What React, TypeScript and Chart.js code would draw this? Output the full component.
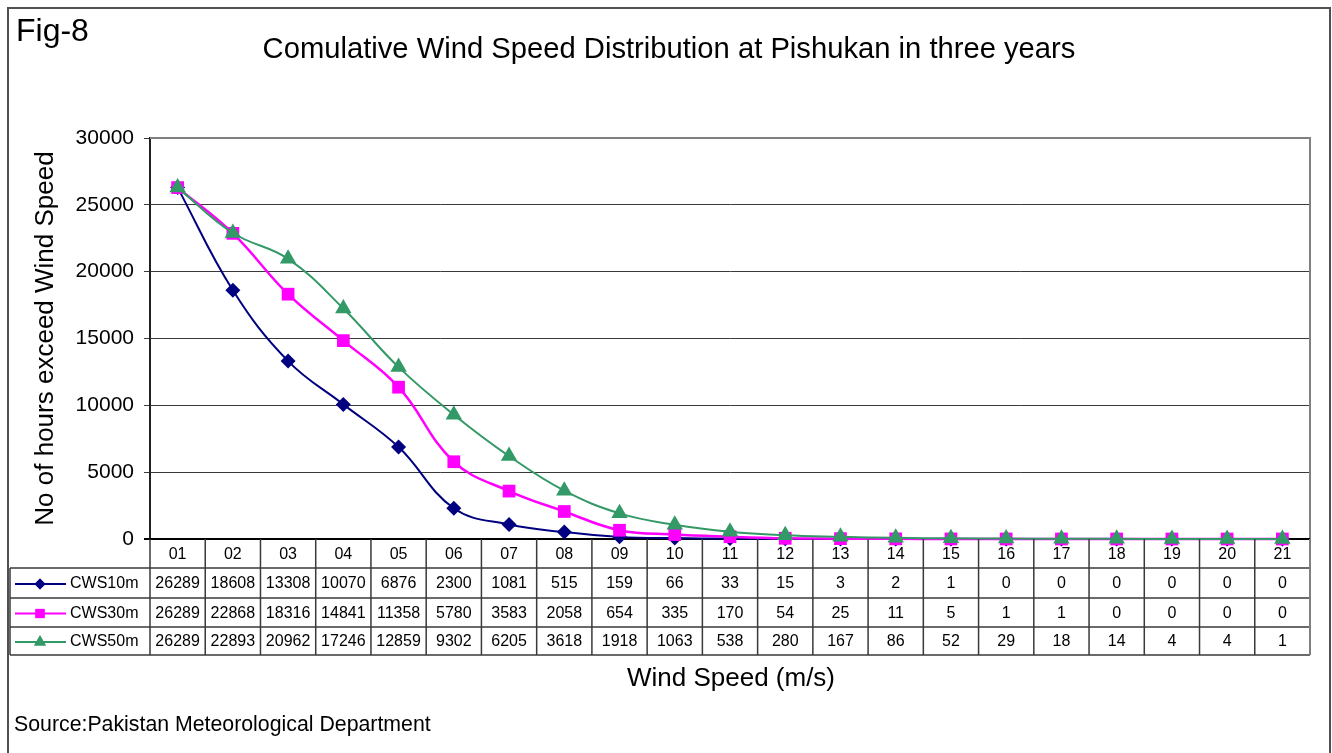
import React, { useEffect, useRef } from "react";
import { Chart, registerables } from "chart.js";
import { drawPoint } from "chart.js/helpers";

Chart.register(...registerables);

const categories = ["01", "02", "03", "04", "05", "06", "07", "08", "09", "10", "11", "12", "13", "14", "15", "16", "17", "18", "19", "20", "21"];
const cws10m = [26289, 18608, 13308, 10070, 6876, 2300, 1081, 515, 159, 66, 33, 15, 3, 2, 1, 0, 0, 0, 0, 0, 0];
const cws30m = [26289, 22868, 18316, 14841, 11358, 5780, 3583, 2058, 654, 335, 170, 54, 25, 11, 5, 1, 1, 0, 0, 0, 0];
const cws50m = [26289, 22893, 20962, 17246, 12859, 9302, 6205, 3618, 1918, 1063, 538, 280, 167, 86, 52, 29, 18, 14, 4, 4, 1];
const yTicks = [0, 5000, 10000, 15000, 20000, 25000, 30000];
const seriesNames = ["CWS10m", "CWS30m", "CWS50m"];

const figLabel = "Fig-8";
const chartTitle = "Comulative Wind Speed Distribution at Pishukan in three years";
const xTitle = "Wind Speed (m/s)";
const yTitle = "No of hours exceed Wind Speed";
const sourceText = "Source:Pakistan Meteorological Department";

const FONT = "'Liberation Sans', Arial, Helvetica, sans-serif";

const styles = [
  { color: "#000080", pointStyle: "rectRot", radius: 7.5, width: 2 },
  { color: "#FF00FF", pointStyle: "rect", radius: 9, width: 2.5 },
  { color: "#339966", pointStyle: "triangle", radius: 9.5, width: 2 },
];

const decor = {
  id: "decor",
  beforeDraw(chart: any) {
    const ctx = chart.ctx;
    ctx.save();
    ctx.fillStyle = "#ffffff";
    ctx.fillRect(0, 0, chart.width, chart.height);
    ctx.restore();
  },
  beforeDatasetsDraw(chart: any) {
    const { ctx, chartArea } = chart;
    const { left, right, top, bottom } = chartArea;
    ctx.save();
    ctx.strokeStyle = "#808080";
    ctx.lineWidth = 2;
    ctx.beginPath();
    ctx.moveTo(left, top);
    ctx.lineTo(right, top);
    ctx.lineTo(right, bottom);
    ctx.stroke();
    ctx.strokeStyle = "#000000";
    ctx.lineWidth = 2;
    ctx.beginPath();
    ctx.moveTo(left - 6, bottom);
    ctx.lineTo(right, bottom);
    ctx.stroke();
    ctx.restore();
  },
  afterDraw(chart: any) {
    const { ctx, chartArea, scales } = chart;
    const { left, right, bottom } = chartArea;
    const x = scales.x;
    const step = x.getPixelForValue(1) - x.getPixelForValue(0);
    const rows = [bottom, bottom + 29, bottom + 59, bottom + 88, bottom + 116];
    const tableLeft = 10;
    ctx.save();

    // outer frame
    ctx.strokeStyle = "#505050";
    ctx.lineWidth = 2;
    ctx.beginPath();
    ctx.moveTo(8, 760);
    ctx.lineTo(8, 8);
    ctx.lineTo(1330, 8);
    ctx.lineTo(1330, 760);
    ctx.stroke();

    // table lines
    ctx.strokeStyle = "#3a3a3a";
    ctx.lineWidth = 1.5;
    ctx.beginPath();
    for (let r = 1; r < rows.length; r++) {
      ctx.moveTo(tableLeft, rows[r]);
      ctx.lineTo(right, rows[r]);
    }
    ctx.moveTo(tableLeft, rows[1]);
    ctx.lineTo(tableLeft, rows[4]);
    for (let i = 0; i < categories.length; i++) {
      const bx = x.getPixelForValue(i) - step / 2;
      ctx.moveTo(bx, rows[0]);
      ctx.lineTo(bx, rows[4]);
    }
    ctx.stroke();
    ctx.strokeStyle = "#808080";
    ctx.lineWidth = 2;
    ctx.beginPath();
    ctx.moveTo(right, rows[0]);
    ctx.lineTo(right, rows[4]);
    ctx.stroke();

    // header labels
    ctx.fillStyle = "#000";
    ctx.textAlign = "center";
    ctx.textBaseline = "middle";
    ctx.font = `16px ${FONT}`;
    categories.forEach((c, i) => {
      ctx.fillText(c, x.getPixelForValue(i), (rows[0] + rows[1]) / 2 + 1);
    });

    // values
    const all = [cws10m, cws30m, cws50m];
    all.forEach((arr, r) => {
      const cy = (rows[r + 1] + rows[r + 2]) / 2 + 1;
      arr.forEach((v, i) => {
        ctx.fillText(String(v), x.getPixelForValue(i), cy);
      });
      // legend key
      const st = styles[r];
      ctx.strokeStyle = st.color;
      ctx.lineWidth = 2;
      ctx.beginPath();
      ctx.moveTo(15, cy);
      ctx.lineTo(66, cy);
      ctx.stroke();
      ctx.fillStyle = st.color;
      drawPoint(ctx, { pointStyle: st.pointStyle as any, radius: st.radius * 0.72, rotation: 0, borderWidth: 0 }, 40, cy);
      ctx.fill();
      ctx.fillStyle = "#000";
      ctx.textAlign = "left";
      ctx.fillText(seriesNames[r], 70, cy);
      ctx.textAlign = "center";
    });

    // texts
    ctx.fillStyle = "#000";
    ctx.textBaseline = "alphabetic";
    ctx.textAlign = "left";
    ctx.font = `32px ${FONT}`;
    ctx.fillText(figLabel, 16, 41);
    ctx.textAlign = "center";
    ctx.font = `29.2px ${FONT}`;
    ctx.fillText(chartTitle, 669, 58);
    ctx.font = `26px ${FONT}`;
    ctx.fillText(xTitle, 731, 686);
    ctx.textAlign = "left";
    ctx.font = `21.3px ${FONT}`;
    ctx.fillText(sourceText, 14, 731);
    ctx.restore();
  },
};

export default function App() {
  const ref = useRef<HTMLCanvasElement | null>(null);
  useEffect(() => {
    if (!ref.current) return;
    const datasets = [cws10m, cws30m, cws50m].map((d, i) => ({
      label: seriesNames[i],
      data: d,
      borderColor: styles[i].color,
      backgroundColor: styles[i].color,
      pointBackgroundColor: styles[i].color,
      pointBorderColor: styles[i].color,
      pointBorderWidth: 0,
      pointStyle: styles[i].pointStyle as any,
      pointRadius: styles[i].radius,
      borderWidth: styles[i].width,
      tension: 0.4,
      fill: false,
      clip: false as any,
      order: 2 - i,
    }));
    const chart = new Chart(ref.current, {
      type: "line",
      data: { labels: categories, datasets },
      options: {
        responsive: false,
        animation: false,
        devicePixelRatio: 1,
        layout: { autoPadding: false, padding: { left: 0, top: 138, right: 22, bottom: 214 } },
        plugins: { legend: { display: false }, title: { display: false }, tooltip: { enabled: false } },
        scales: {
          x: { type: "category", offset: true, display: false },
          y: {
            min: 0,
            max: 30000,
            afterBuildTicks: (s: any) => {
              s.ticks = yTicks.map((v) => ({ value: v }));
            },
            afterFit: (s: any) => {
              s.width = 150;
            },
            grid: { color: "#3a3a3a", lineWidth: 1, tickLength: 6, drawTicks: true },
            border: { color: "#222", width: 2 },
            ticks: {
              font: { family: FONT, size: 21 },
              color: "#000",
              padding: 10,
              callback: (v: any) => String(v),
            },
            title: {
              display: true,
              text: yTitle,
              font: { family: FONT, size: 26 },
              color: "#000",
              padding: { top: 30, bottom: 0 },
            },
          },
        },
      },
      plugins: [decor],
    });
    return () => chart.destroy();
  }, []);
  return (
    <div style={{ position: "fixed", left: 0, top: 0, width: 1332, height: 753, background: "#fff" }}>
      <canvas ref={ref} width={1332} height={753} style={{ width: 1332, height: 753, display: "block" }} />
    </div>
  );
}
